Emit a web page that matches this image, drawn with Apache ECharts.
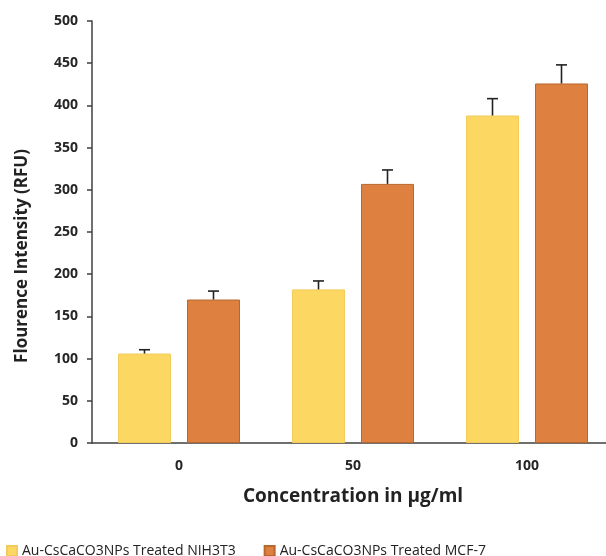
<!DOCTYPE html>
<html>
<head>
<meta charset="utf-8">
<script src="https://cdn.jsdelivr.net/npm/echarts@6/dist/echarts.min.js"></script>
<style>html,body{margin:0;padding:0;background:#fff;overflow:hidden;}#c{width:630px;height:556px;}</style>
</head>
<body>
<div id="c"></div>
<script>
const categories = ['0', '50', '100'];
const seriesNames = ['Au-CsCaCO3NPs Treated NIH3T3', 'Au-CsCaCO3NPs Treated MCF-7'];
const nih3t3 = [106, 182, 388];
const nih3t3Err = [4.5, 10, 20];
const mcf7 = [170, 307, 426];
const mcf7Err = [10, 16.5, 22];
const yTicks = [0, 50, 100, 150, 200, 250, 300, 350, 400, 450, 500];

const BAR_W = 53, GAP = 16;
const colors = ['#FCD762', '#DE8040'];
const borders = ['#F2CB5A', '#B8672F'];

function errSeries(vals, errs, sign) {
  return {
    type: 'custom',
    z: 5,
    silent: true,
    data: vals.map((v, i) => [i, v, errs[i]]),
    renderItem: function (params, api) {
      const i = api.value(0), v = api.value(1), e = api.value(2);
      const base = api.coord([i, v]);
      const top = api.coord([i, v + e]);
      const x = base[0] + sign * (BAR_W + GAP) / 2;
      const st = { stroke: '#222', lineWidth: 1.6 };
      return {
        type: 'group',
        children: [
          { type: 'line', shape: { x1: x, y1: base[1], x2: x, y2: top[1] }, style: st },
          { type: 'line', shape: { x1: x - 5.5, y1: top[1], x2: x + 5.5, y2: top[1] }, style: st }
        ]
      };
    }
  };
}

const chart = echarts.init(document.getElementById('c'), null, { renderer: 'canvas' });
chart.setOption({
  animation: false,
  backgroundColor: '#fff',
  grid: { left: 92, top: 21, width: 522, height: 422, containLabel: false },
  legend: {
    data: seriesNames,
    left: 1, top: 539,
    itemWidth: 10, itemHeight: 10, itemGap: 28,
    icon: 'rect',
    textStyle: { fontFamily: 'Open Sans', fontSize: 14, color: '#222' }
  },
  xAxis: {
    type: 'category',
    data: categories,
    name: 'Concentration in µg/ml',
    nameLocation: 'middle',
    nameGap: 44,
    nameTextStyle: { fontFamily: 'Open Sans', fontWeight: 'bold', fontSize: 19, color: '#222' },
    axisLine: { lineStyle: { color: '#404040', width: 1.5 } },
    axisTick: { show: false },
    axisLabel: { margin: 16, fontFamily: 'Open Sans', fontWeight: 'bold', fontSize: 14, color: '#262626' }
  },
  yAxis: {
    type: 'value',
    min: 0, max: 500, interval: 50,
    axisLine: { show: true, lineStyle: { color: '#404040', width: 1.5 } },
    axisTick: { show: true, length: 5, lineStyle: { color: '#404040', width: 1.5 } },
    splitLine: { show: false },
    axisLabel: { margin: 14, fontFamily: 'Open Sans', fontWeight: 'bold', fontSize: 14, color: '#262626',
      formatter: v => yTicks.includes(v) ? String(v) : '' }
  },
  graphic: [{
    type: 'text',
    x: 22, y: 256,
    rotation: Math.PI / 2,
    style: {
      text: 'Flourence Intensity (RFU)',
      font: 'bold 17px "Open Sans"',
      fill: '#222',
      textAlign: 'center',
      textVerticalAlign: 'middle'
    }
  }],
  series: [
    {
      name: seriesNames[0], type: 'bar', data: nih3t3,
      barWidth: BAR_W, barGap: (GAP / BAR_W * 100) + '%',
      itemStyle: { color: colors[0], borderColor: borders[0], borderWidth: 1 }
    },
    {
      name: seriesNames[1], type: 'bar', data: mcf7,
      barWidth: BAR_W,
      itemStyle: { color: colors[1], borderColor: borders[1], borderWidth: 1 }
    },
    errSeries(nih3t3, nih3t3Err, -1),
    errSeries(mcf7, mcf7Err, 1)
  ]
});
</script>
</body>
</html>
